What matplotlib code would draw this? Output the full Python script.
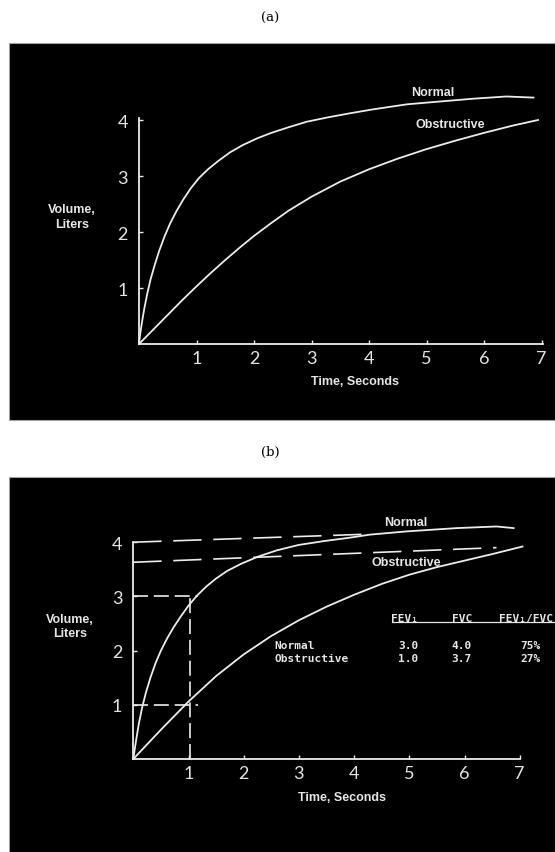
import matplotlib
matplotlib.use("Agg")
import matplotlib.pyplot as plt
from matplotlib.patches import Rectangle

W, H = 555, 853

# spirometry curves, volume (L) against time (s)
norm_a_t = [0, 0.02, 0.05, 0.09, 0.14, 0.2, 0.27, 0.35, 0.44, 0.54, 0.65, 0.77, 0.9, 1.04,
            1.2, 1.38, 1.58, 1.8, 2.05, 2.3, 2.6, 2.92, 3.3, 3.67, 4.07, 4.66, 5.23, 5.81,
            6.39, 6.86]
norm_a_v = [0, 0.17, 0.38, 0.62, 0.88, 1.15, 1.4, 1.66, 1.91, 2.15, 2.37, 2.58, 2.78, 2.96,
            3.12, 3.27, 3.42, 3.55, 3.67, 3.77, 3.87, 3.97, 4.05, 4.12, 4.19, 4.28, 4.33, 4.38,
            4.42, 4.4]
obs_a_t = [0, 0.25, 0.5, 0.75, 1.0, 1.25, 1.5, 1.75, 2.0, 2.3, 2.6, 3.0, 3.5, 4.0, 4.5, 5.0,
           5.5, 6.0, 6.5, 6.94]
obs_a_v = [0, 0.26, 0.52, 0.78, 1.03, 1.27, 1.5, 1.72, 1.93, 2.16, 2.38, 2.63, 2.9, 3.12,
           3.31, 3.48, 3.63, 3.77, 3.9, 4.0]

norm_b_t = [0, 0.02, 0.05, 0.1, 0.16, 0.23, 0.31, 0.4, 0.5, 0.61, 0.73, 0.86, 1.0, 1.15,
            1.32, 1.5, 1.7, 1.95, 2.25, 2.6, 3.0, 3.45, 3.9, 4.29, 4.96, 5.86, 6.58, 6.89]
norm_b_v = [0, 0.14, 0.34, 0.65, 0.95, 1.23, 1.5, 1.76, 2.0, 2.22, 2.43, 2.63, 2.83, 3.01,
            3.18, 3.33, 3.47, 3.6, 3.73, 3.85, 3.95, 4.02, 4.08, 4.14, 4.2, 4.26, 4.29, 4.26]
obs_b_t = [0, 0.5, 1.0, 1.5, 2.0, 2.5, 3.0, 3.5, 4.0, 4.5, 5.0, 5.5, 6.0, 6.5, 7.05]
obs_b_v = [0, 0.54, 1.06, 1.53, 1.93, 2.27, 2.56, 2.81, 3.03, 3.23, 3.4, 3.54, 3.66, 3.78,
           3.92]

# FEV1 / FVC summary
groups = ["Normal", "Obstructive"]
fev1 = [3.0, 1.0]
fvc = [4.0, 3.7]
ratio = ["75%", "27%"]
fev1_time = 1.0
# sloping guide lines drawn through the FVC levels
guide_start_v = [4.0, 3.63]
guide_end_t = [4.3, 6.58]
guide_end_v = [4.15, 3.9]

x_ticks = [1, 2, 3, 4, 5, 6, 7]
y_ticks = [1, 2, 3, 4]

fig = plt.figure(figsize=(W / 100, H / 100), dpi=100)
fig.patch.set_facecolor("white")

LINE = "#ececec"
bold = dict(family="Liberation Sans", weight="bold", color="#e6e6e6")


def px(x, y):
    return x / W, 1 - y / H


def panel(top, bottom, label, label_y):
    fig.patches.append(Rectangle((8.5 / W, 1 - bottom / H), (W - 8.5) / W, (bottom - top) / H,
                                 transform=fig.transFigure, facecolor="black",
                                 edgecolor="#a0a0a0", linewidth=0.8, zorder=-5))
    fig.text(*px(270, label_y), label, ha="center", va="center",
             family="DejaVu Serif", fontsize=9.5, color="black")


def make_axes(x0, y0, sx, sy, xmax, ymax, ytop, xend):
    ax = fig.add_axes([x0 / W, 1 - y0 / H, sx * xmax / W, sy * ymax / H])
    ax.set_xlim(0, xmax)
    ax.set_ylim(0, ymax)
    ax.patch.set_visible(False)
    for s in ["top", "right"]:
        ax.spines[s].set_visible(False)
    for s in ["left", "bottom"]:
        ax.spines[s].set_color(LINE)
        ax.spines[s].set_linewidth(1.3)
    ax.spines["left"].set_bounds(0, ytop)
    ax.spines["bottom"].set_bounds(0, xend)
    ax.set_xticks(x_ticks)
    ax.set_yticks(y_ticks)
    ax.set_xticklabels([str(v) for v in x_ticks])
    ax.set_yticklabels([str(v) for v in y_ticks])
    ax.tick_params(direction="in", length=3, width=1, color=LINE, labelcolor="#e4e4e4",
                   labelsize=13)
    ax.tick_params(axis="x", pad=4)
    ax.tick_params(axis="y", pad=8)
    for t in ax.get_xticklabels() + ax.get_yticklabels():
        t.set_family("Lato")
        t.set_weight("normal")
    return ax


# ---- (a) ----
panel(44.3, 420.7, "(a)", 18.5)
ax1 = make_axes(139, 345, 57.5, 56, 7.25, 4.7, 4.03, 7.02)
ax1.plot(norm_a_t, norm_a_v, color=LINE, lw=1.3, clip_on=False)
ax1.plot(obs_a_t, obs_a_v, color=LINE, lw=1.3, clip_on=False)
ax1.text(5.1, 4.5, "Normal", ha="center", va="center", fontsize=9, **bold)
ax1.text(5.42, 3.93, "Obstructive", ha="center", va="center", fontsize=9, **bold)
fig.text(*px(72, 217.5), "Volume,\nLiters", ha="center", va="center", fontsize=9,
         linespacing=1.3, **bold)
fig.text(*px(355, 382), "Time, Seconds", ha="center", va="center", fontsize=9, **bold)

# ---- (b) ----
panel(477.7, 853.5, "(b)", 452.7)
ax2 = make_axes(133.3, 760, 55.2, 54.2, 7.7, 4.7, 4.0, 7.0)
ax2.plot(norm_b_t, norm_b_v, color=LINE, lw=1.3, clip_on=False)
ax2.plot(obs_b_t, obs_b_v, color=LINE, lw=1.3, clip_on=False)

# long-dash guides to FVC
for v0, te, ve in zip(guide_start_v, guide_end_t, guide_end_v):
    ax2.plot([0, te], [v0, ve], color=LINE, lw=1.2, dashes=(17, 7), clip_on=False)
# short-dash guides for FEV1 at one second
for v in fev1:
    ax2.plot([0, fev1_time + 0.18], [v, v], color=LINE, lw=1.2, dashes=(9, 3.5))
ax2.plot([fev1_time + 0.03] * 2, [0, max(fev1)], color=LINE, lw=1.2, dashes=(9, 3.5))

ax2.text(4.94, 4.38, "Normal", ha="center", va="center", fontsize=9, **bold)
ax2.text(4.95, 3.64, "Obstructive", ha="center", va="center", fontsize=9, **bold)
fig.text(*px(70, 627), "Volume,\nLiters", ha="center", va="center", fontsize=9,
         linespacing=1.3, **bold)
fig.text(*px(342, 798), "Time, Seconds", ha="center", va="center", fontsize=9, **bold)

# summary table
mono = dict(family="DejaVu Sans Mono", weight="bold", color="#e6e6e6", fontsize=8,
            va="center")
ax2.text(4.92, 2.6, "FEV₁", ha="center", clip_on=False, **mono)
ax2.text(5.95, 2.6, "FVC", ha="center", clip_on=False, **mono)
ax2.text(6.62, 2.6, "FEV₁/FVC", ha="left", clip_on=False, **mono)
ax2.plot([4.68, 7.7], [2.52, 2.52], color="#e6e6e6", lw=0.9, clip_on=False)
row_v = [2.10, 1.86]
for g, f1, fv, r, rv in zip(groups, fev1, fvc, ratio, row_v):
    ax2.text(2.56, rv, g, ha="left", **mono)
    ax2.text(4.98, rv, f"{f1:.1f}", ha="center", **mono)
    ax2.text(5.95, rv, f"{fv:.1f}", ha="center", **mono)
    ax2.text(7.2, rv, r, ha="center", clip_on=False, **mono)

fig.savefig("out.png", dpi=100, facecolor="white")
